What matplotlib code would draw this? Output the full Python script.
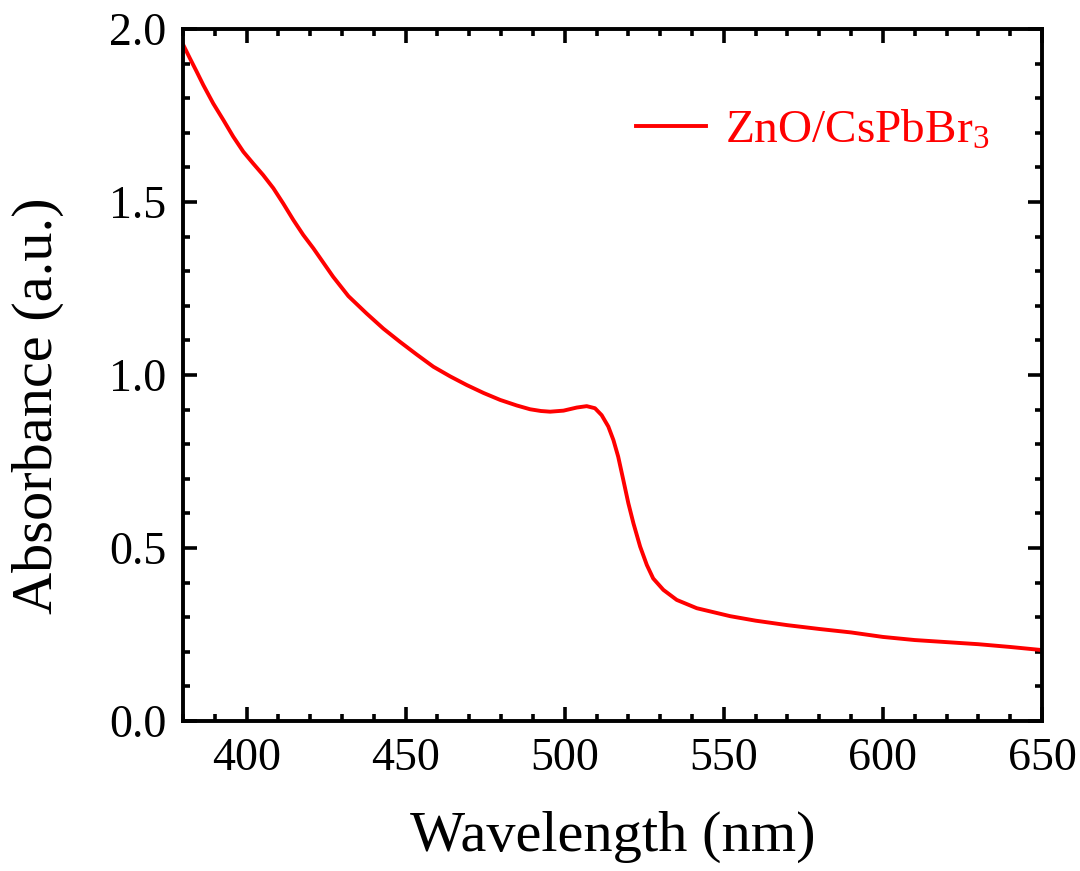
import numpy as np
import matplotlib
matplotlib.use("Agg")
import matplotlib.pyplot as plt
from matplotlib.ticker import MultipleLocator, FormatStrFormatter

# data
wavelength = [380.1, 382.2, 384.3, 386.4, 389.5, 392.7, 395.8, 399.0, 402.1, 405.2,
              408.4, 411.5, 414.7, 417.8, 421.0, 427.2, 432.0, 437.7, 443.0, 448.2,
              453.5, 458.7, 464.0, 469.2, 474.5, 479.7, 484.9, 489.1, 492.5, 495.4,
              499.6, 503.8, 506.9, 509.5, 511.6, 513.7, 515.3, 516.8, 518.4, 520.0,
              521.6, 523.7, 525.8, 527.8, 531.0, 535.2, 541.5, 552.0, 560, 570,
              580, 590, 600, 610, 620, 630, 640, 650]
absorbance = [1.954, 1.915, 1.877, 1.838, 1.785, 1.737, 1.689, 1.645, 1.611, 1.578,
              1.540, 1.496, 1.448, 1.405, 1.366, 1.284, 1.228, 1.178, 1.134, 1.096,
              1.059, 1.024, 0.996, 0.971, 0.948, 0.928, 0.912, 0.901, 0.896, 0.894,
              0.897, 0.906, 0.910, 0.904, 0.884, 0.851, 0.812, 0.764, 0.697, 0.629,
              0.571, 0.504, 0.451, 0.412, 0.379, 0.350, 0.326, 0.303, 0.290, 0.277,
              0.266, 0.256, 0.243, 0.234, 0.228, 0.222, 0.214, 0.205]
series_name = "ZnO/CsPbBr$_3$"

plt.rcParams['font.family'] = ['Liberation Serif', 'DejaVu Serif']
plt.rcParams['mathtext.default'] = 'regular'

fig = plt.figure(figsize=(10.8, 8.71), dpi=100)
ax = fig.add_axes([0.1694, 0.1722, 0.7954, 0.7945])

ax.plot(wavelength, absorbance, color='red', lw=2.8, label=series_name)

ax.set_xlim(380, 650)
ax.set_ylim(0, 2.0)
ax.xaxis.set_major_locator(MultipleLocator(50))
ax.xaxis.set_minor_locator(MultipleLocator(10))
ax.yaxis.set_major_locator(MultipleLocator(0.5))
ax.yaxis.set_minor_locator(MultipleLocator(0.1))
ax.yaxis.set_major_formatter(FormatStrFormatter('%.1f'))

for s in ax.spines.values():
    s.set_linewidth(2.8)
ax.tick_params(which='both', direction='in', top=True, right=True, width=2.6)
ax.tick_params(which='major', length=10, labelsize=33, pad=12)
ax.tick_params(which='minor', length=5)

ax.set_xlabel("Wavelength (nm)", fontsize=42, labelpad=22)
ax.set_ylabel("Absorbance (a.u.)", fontsize=42)
ax.yaxis.set_label_coords(-0.138, 0.455)

# legend: handle starts at x=636 px, centred on y=131 px
leg = ax.legend(loc='center left', bbox_to_anchor=(0.527, 0.853), frameon=False,
                fontsize=34, handlelength=1.5, handletextpad=0.4,
                borderpad=0, borderaxespad=0)
for t in leg.get_texts():
    t.set_color('red')

fig.savefig("out.png", dpi=100)
